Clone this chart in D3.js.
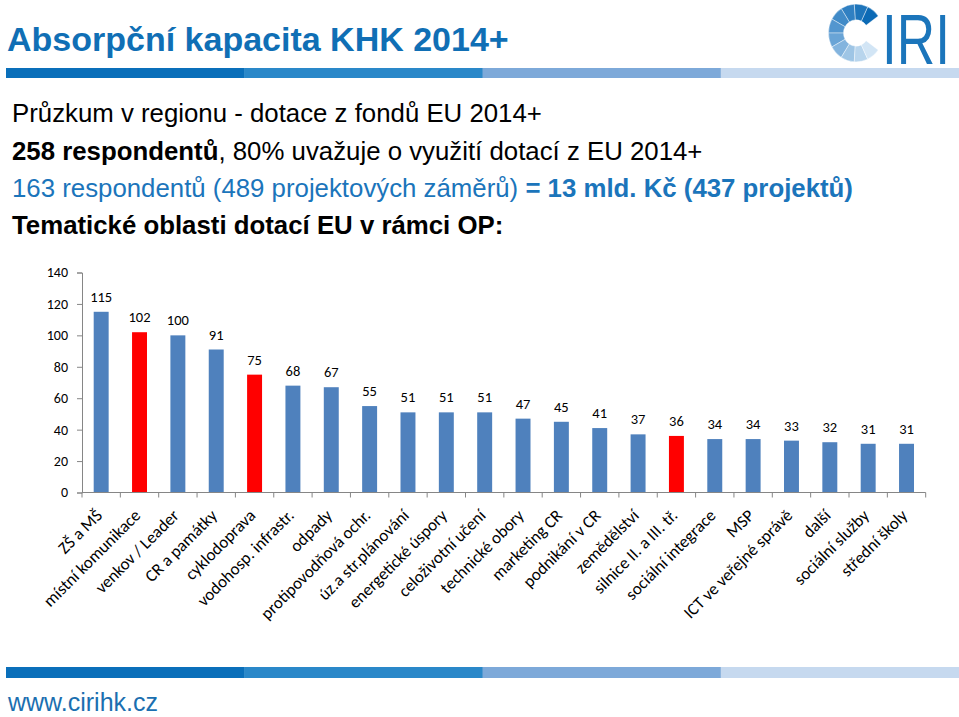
<!DOCTYPE html>
<html><head><meta charset="utf-8">
<script src="https://cdn.jsdelivr.net/npm/d3@7"></script>
<style>body{margin:0;background:#fff}svg{display:block}</style>
</head><body>
<svg id="c" width="959" height="717"></svg>
<script>
const categories = ["ZŠ a MŠ","místní komunikace","venkov / Leader","CR a památky","cyklodoprava","vodohosp. infrastr.","odpady","protipovodňová ochr.","úz.a str.plánování","energetické úspory","celoživotní učení","technické obory","marketing CR","podnikání v CR","zemědělství","silnice II. a III. tř.","sociální integrace","MSP","ICT ve veřejné správě","další","sociální služby","střední školy"];
const values = [115,102,100,91,75,68,67,55,51,51,51,47,45,41,37,36,34,34,33,32,31,31];
const highlighted = ["místní komunikace","cyklodoprava","silnice II. a III. tř."];
const yTicks = [0,20,40,60,80,100,120,140];
const stripeColors = ["#0A6FBA","#2A88C9","#7DA9D9","#C6D9EF"];

const svg = d3.select("#c");

// header title
svg.append("text").attr("x",7).attr("y",51)
  .attr("font-family","Liberation Sans, Arial, sans-serif").attr("font-weight","bold")
  .attr("font-size",34).attr("fill","#106FB5").text("Absorpční kapacita KHK 2014+");

// stripes
function stripes(y,h){
  const sx = d3.scaleBand().domain(d3.range(4)).range([6,959]);
  svg.append("g").selectAll("rect").data(stripeColors).join("rect")
    .attr("x",(d,i)=>sx(i)).attr("y",y).attr("width",sx.bandwidth()+0.5).attr("height",h).attr("fill",d=>d);
}
stripes(68,10);
stripes(667,11);

// logo
const lg = svg.append("g").attr("transform","translate(856,33) scale(1,1.05)");
const nSeg = 10;
const a0 = Math.PI*0.30, a1 = -Math.PI*1.30;
const segAng = d3.scaleLinear().domain([0,nSeg]).range([a0,a1]);
const segColor = d3.scaleLinear().domain([0,nSeg*0.45,nSeg-1]).range(["#0C6AB5","#5C9CD2","#D2E5F5"]);
const arc = d3.arc().innerRadius(12.5).outerRadius(27.5);
lg.selectAll("path").data(d3.range(nSeg)).join("path")
  .attr("d",i=>arc({startAngle:segAng(i+1), endAngle:segAng(i)}))
  .attr("fill",i=>segColor(i)).attr("stroke","#fff").attr("stroke-width",0.4);
svg.append("g").attr("transform","translate(882,64) scale(0.76,1)")
  .append("text").attr("x",0).attr("y",0)
  .attr("font-family","Liberation Sans, Arial, sans-serif")
  .attr("font-size",70).attr("fill","#1B75BB").text("IRI");

// intro lines
const tf = "Liberation Sans, Arial, sans-serif";
const fs = 25.8;
const l1 = svg.append("text").attr("x",12).attr("y",122).attr("font-family",tf).attr("font-size",fs).attr("fill","#000");
l1.append("tspan").text("Průzkum v regionu - dotace z fondů EU 2014+");
const l2 = svg.append("text").attr("x",12).attr("y",160).attr("font-family",tf).attr("font-size",fs).attr("fill","#000");
l2.append("tspan").attr("font-weight","bold").text("258 respondentů");
l2.append("tspan").text(", 80% uvažuje o využití dotací z EU 2014+");
const l3 = svg.append("text").attr("x",12).attr("y",197).attr("font-family",tf).attr("font-size",fs).attr("fill","#1B75BB");
l3.append("tspan").text("163 respondentů (489 projektových záměrů) ");
l3.append("tspan").attr("font-weight","bold").text("= 13 mld. Kč (437 projektů)");
const l4 = svg.append("text").attr("x",12).attr("y",234).attr("font-family",tf).attr("font-size",fs).attr("font-weight","bold").attr("fill","#000");
l4.append("tspan").text("Tematické oblasti dotací EU v rámci OP:");

// chart
const x0 = 82, step = 38.35;
const x = d3.scaleBand().domain(categories).range([x0, x0+step*categories.length])
  .paddingInner(0.61).paddingOuter(0.305);
const y = d3.scaleLinear().domain([0,140]).range([492.5,272.5]);
const cf = "Carlito, Lato, 'Open Sans', sans-serif";

const yAxis = d3.axisLeft(y).tickValues(yTicks).tickSize(5).tickPadding(9);
const gy = svg.append("g").attr("transform",`translate(${x0},0)`).call(yAxis);
gy.select(".domain").attr("stroke","#868686");
gy.selectAll(".tick line").attr("stroke","#868686");
gy.selectAll(".tick text").attr("font-family",cf).attr("font-size",14).attr("fill","#000");

// bars
svg.append("g").selectAll("rect").data(categories).join("rect")
  .attr("x",d=>x(d)).attr("width",x.bandwidth())
  .attr("y",(d,i)=>y(values[i])).attr("height",(d,i)=>y(0)-y(values[i]))
  .attr("fill",d=>highlighted.includes(d)?"#FF0000":"#4F81BD");

// value labels
svg.append("g").selectAll("text").data(categories).join("text")
  .attr("x",d=>x(d)+x.bandwidth()/2).attr("y",(d,i)=>y(values[i])-10)
  .attr("text-anchor","middle").attr("font-family",cf).attr("font-size",14.5).attr("fill","#000")
  .text((d,i)=>values[i]);

// x axis line and ticks at category boundaries
const gap = (x.step()-x.bandwidth())/2;
const bounds = categories.map(c=>x(c)-gap).concat([x(categories[categories.length-1])+x.bandwidth()+gap]);
svg.append("line").attr("x1",bounds[0]).attr("x2",bounds[bounds.length-1])
  .attr("y1",y(0)).attr("y2",y(0)).attr("stroke","#868686");
svg.append("g").selectAll("line").data(bounds).join("line")
  .attr("x1",d=>d).attr("x2",d=>d).attr("y1",y(0)).attr("y2",y(0)+5).attr("stroke","#868686");

// category labels
svg.append("g").selectAll("text").data(categories).join("text")
  .attr("transform",d=>`translate(${x(d)+x.bandwidth()/2+2},${y(0)+24}) rotate(-45)`)
  .attr("text-anchor","end").attr("font-family",cf).attr("font-size",17).attr("fill","#000")
  .text(d=>d);

// footer
svg.append("text").attr("x",8).attr("y",711)
  .attr("font-family","Liberation Sans Narrow, Arial Narrow, sans-serif")
  .attr("font-size",25).attr("fill","#1B6FB0").text("www.cirihk.cz");
</script>
</body></html>
